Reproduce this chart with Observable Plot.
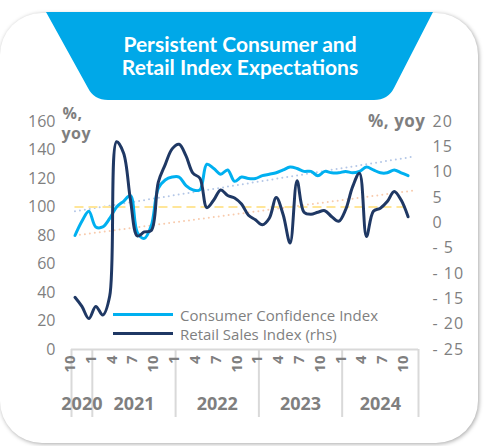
<!DOCTYPE html>
<html><head><meta charset="utf-8">
<script src="https://cdn.jsdelivr.net/npm/d3@7"></script>
<script src="https://cdn.jsdelivr.net/npm/@observablehq/plot@0.6"></script>
<style>
html,body{margin:0;padding:0;background:#fff;}
#wrap{position:relative;width:484px;height:446px;overflow:hidden;font-family:"Open Sans",sans-serif;}
#card{position:absolute;left:0;top:13px;width:478px;height:430px;background:#fff;border-radius:42px;box-shadow:1px 1px 4px rgba(0,0,0,0.35);}
#banner{position:absolute;left:0;top:0;}
#title{position:absolute;left:80px;width:320px;top:32px;text-align:center;color:#fff;font-family:Lato,sans-serif;font-weight:700;font-size:21px;line-height:23px;margin:0;}
#chart{position:absolute;left:0;top:0;}
#legend{position:absolute;left:113px;top:305px;font-size:15px;color:#7f7f7f;font-family:"Open Sans",sans-serif;}
#legend .row{display:flex;align-items:center;height:19px;}
#legend .sw{width:60px;height:3px;margin-right:7px;}
g[aria-description="rticks"] text{letter-spacing:1px;}
g[aria-description="atitle"] text{letter-spacing:0.5px;}
</style></head>
<body>
<div id="wrap">
  <div id="card"></div>
  <svg id="banner" width="484" height="110"><path d="M46,12 L433,12 L394,88 Q388,100 374,100 L108,100 Q94,100 88,88 Z" fill="#00a8e8"/></svg>
  <h1 id="title">Persistent Consumer and<br>Retail Index Expectations</h1>
  <div id="chart"></div>
  <div id="legend">
    <div class="row"><div class="sw" style="background:#00b0f0"></div><span>Consumer Confidence Index</span></div>
    <div class="row"><div class="sw" style="background:#1f3864"></div><span>Retail Sales Index (rhs)</span></div>
  </div>
</div>
<script>
// ---- data ----
const startYear = 2020, startMonth = 10, nCategories = 50; // Oct 2020 .. Nov 2024
const years = [2020, 2021, 2022, 2023, 2024];
const labelMonths = [1, 4, 7, 10];
// Consumer Confidence Index (left axis), Oct 2020 .. Oct 2024
const consumerConfidence = [80, 90, 97, 86, 86, 92, 100, 104, 108, 82, 78, 87, 113,
  119, 121, 121, 115, 112, 112, 130, 127, 123, 126, 118, 121,
  120, 120, 122, 123, 124, 126, 128, 127, 125, 125, 122, 125,
  124, 124, 125, 124, 125, 128, 126, 124, 124, 126, 124, 122];
// Retail Sales Index, % yoy (right axis)
const retailSales = [-14.7, -16.5, -18.9, -16.5, -18.2, -14.5, 16, 13.8, 4.5, -2.6, -1.8, -1.5, 8,
  11.5, 14.6, 15.5, 13.2, 9.8, 8.8, 3.0, 4.5, 6.5, 5.4, 4.9, 3.7,
  1.5, 0.6, -0.4, 0.9, 5.0, 1.6, -4.0, 8.3, 2.1, 1.7, 2.1, 2.4,
  1.2, 0.3, 2.6, 7.1, 9.8, -2.7, 2.3, 2.9, 4.2, 6.2, 4.5, 1.2];
// trend lines (start/end values)
const trendConsumer = [97, 135.5];   // left axis
const trendRetail = [-2.5, 6.4];     // right axis
const refLevel = 100;                // left axis
const leftTicks = [0, 20, 40, 60, 80, 100, 120, 140, 160];
const rightTicks = [-25, -20, -15, -10, -5, 0, 5, 10, 15, 20];
const leftDomain = [0, 160], rightDomain = [-25, 20];

// ---- helpers ----
const toLeft = r => leftDomain[0] + (r - rightDomain[0]) * (leftDomain[1] - leftDomain[0]) / (rightDomain[1] - rightDomain[0]);
const cats = d3.range(nCategories).map(i => {
  const m0 = startMonth - 1 + i;
  return {i, year: startYear + Math.floor(m0 / 12), month: (m0 % 12) + 1};
});
const monthLabels = cats.filter(c => labelMonths.includes(c.month) && c.i < nCategories - 1);
const yearInfo = years.map(y => {
  const cs = cats.filter(c => c.year === y);
  return {year: y, first: cs[0].i, last: cs[cs.length - 1].i, center: (cs[0].i + cs[cs.length - 1].i) / 2};
});
const bounds = [-0.5, ...yearInfo.map(d => d.last + 0.5)];
const cc = consumerConfidence.map((v, i) => ({i, v}));
const rs = retailSales.map((v, i) => ({i, v: toLeft(v)}));
const lastI = consumerConfidence.length - 1;
const trendCC = [{i: 0, v: trendConsumer[0]}, {i: nCategories - 1, v: trendConsumer[1]}];
const trendRS = [{i: 0, v: toLeft(trendRetail[0])}, {i: nCategories - 1, v: toLeft(trendRetail[1])}];

const gray = "#7f7f7f";
const font = "Open Sans";
const chart = Plot.plot({
  width: 484, height: 446,
  marginLeft: 71, marginRight: 66, marginTop: 121, marginBottom: 97,
  x: {domain: [-0.5, nCategories - 0.5], axis: null},
  y: {domain: leftDomain, axis: null},
  style: {fontFamily: font, background: "transparent", overflow: "visible"},
  marks: [
    Plot.ruleY([0], {x1: -0.5, x2: nCategories - 0.5, stroke: "#d9d9d9", strokeWidth: 2}),
    Plot.ruleX(bounds, {x: d => d, stroke: "#d9d9d9", strokeWidth: 2, insetTop: 228, insetBottom: -68}),
    Plot.line(trendCC, {x: "i", y: "v", stroke: "#b4c7e7", strokeWidth: 2, strokeDasharray: "0,5", strokeLinecap: "round"}),
    Plot.line(trendRS, {x: "i", y: "v", stroke: "#f8cbad", strokeWidth: 2, strokeDasharray: "0,5", strokeLinecap: "round"}),
    Plot.ruleY([refLevel], {x1: 0, x2: lastI, stroke: "#ffe699", strokeWidth: 2, strokeDasharray: "9,5"}),
    Plot.line(cc, {x: "i", y: "v", stroke: "#00b0f0", strokeWidth: 3, curve: "catmull-rom"}),
    Plot.line(rs, {x: "i", y: "v", stroke: "#1f3864", strokeWidth: 3, curve: "catmull-rom"}),
    // left axis
    Plot.text(leftTicks, {x: () => -0.5, y: d => d, text: d => String(d), dx: -16, textAnchor: "end", fontSize: 16, fill: gray}),
    Plot.text(["%,"], {frameAnchor: "top-left", dx: -9, dy: -8, lineAnchor: "middle", textAnchor: "start", fontSize: 16, fontWeight: "bold", fill: gray, ariaDescription: "atitle"}),
    Plot.text(["yoy"], {frameAnchor: "top-left", dx: -10, dy: 12, lineAnchor: "middle", textAnchor: "start", fontSize: 16, fontWeight: "bold", fill: gray, ariaDescription: "atitle"}),
    // right axis
    Plot.text(rightTicks, {x: () => nCategories - 0.5, y: d => toLeft(d), text: d => d < 0 ? "- " + Math.abs(d) : String(d), dx: 14, textAnchor: "start", fontSize: 16, fill: gray, ariaDescription: "rticks"}),
    Plot.text(["%, yoy"], {frameAnchor: "top-right", dx: 7, lineAnchor: "middle", textAnchor: "end", fontSize: 17, fontWeight: "bold", fill: gray, ariaDescription: "atitle"}),
    // category axis
    Plot.text(monthLabels, {x: "i", text: d => String(d.month), frameAnchor: "bottom", dy: 6, rotate: -90, textAnchor: "end", fontSize: 15, fontWeight: "bold", fill: gray}),
    Plot.text(yearInfo, {x: "center", text: d => String(d.year), frameAnchor: "bottom", dy: 60, fontSize: 18, fontWeight: "bold", fill: gray})
  ]
});
document.getElementById("chart").appendChild(chart);
</script>
</body></html>
